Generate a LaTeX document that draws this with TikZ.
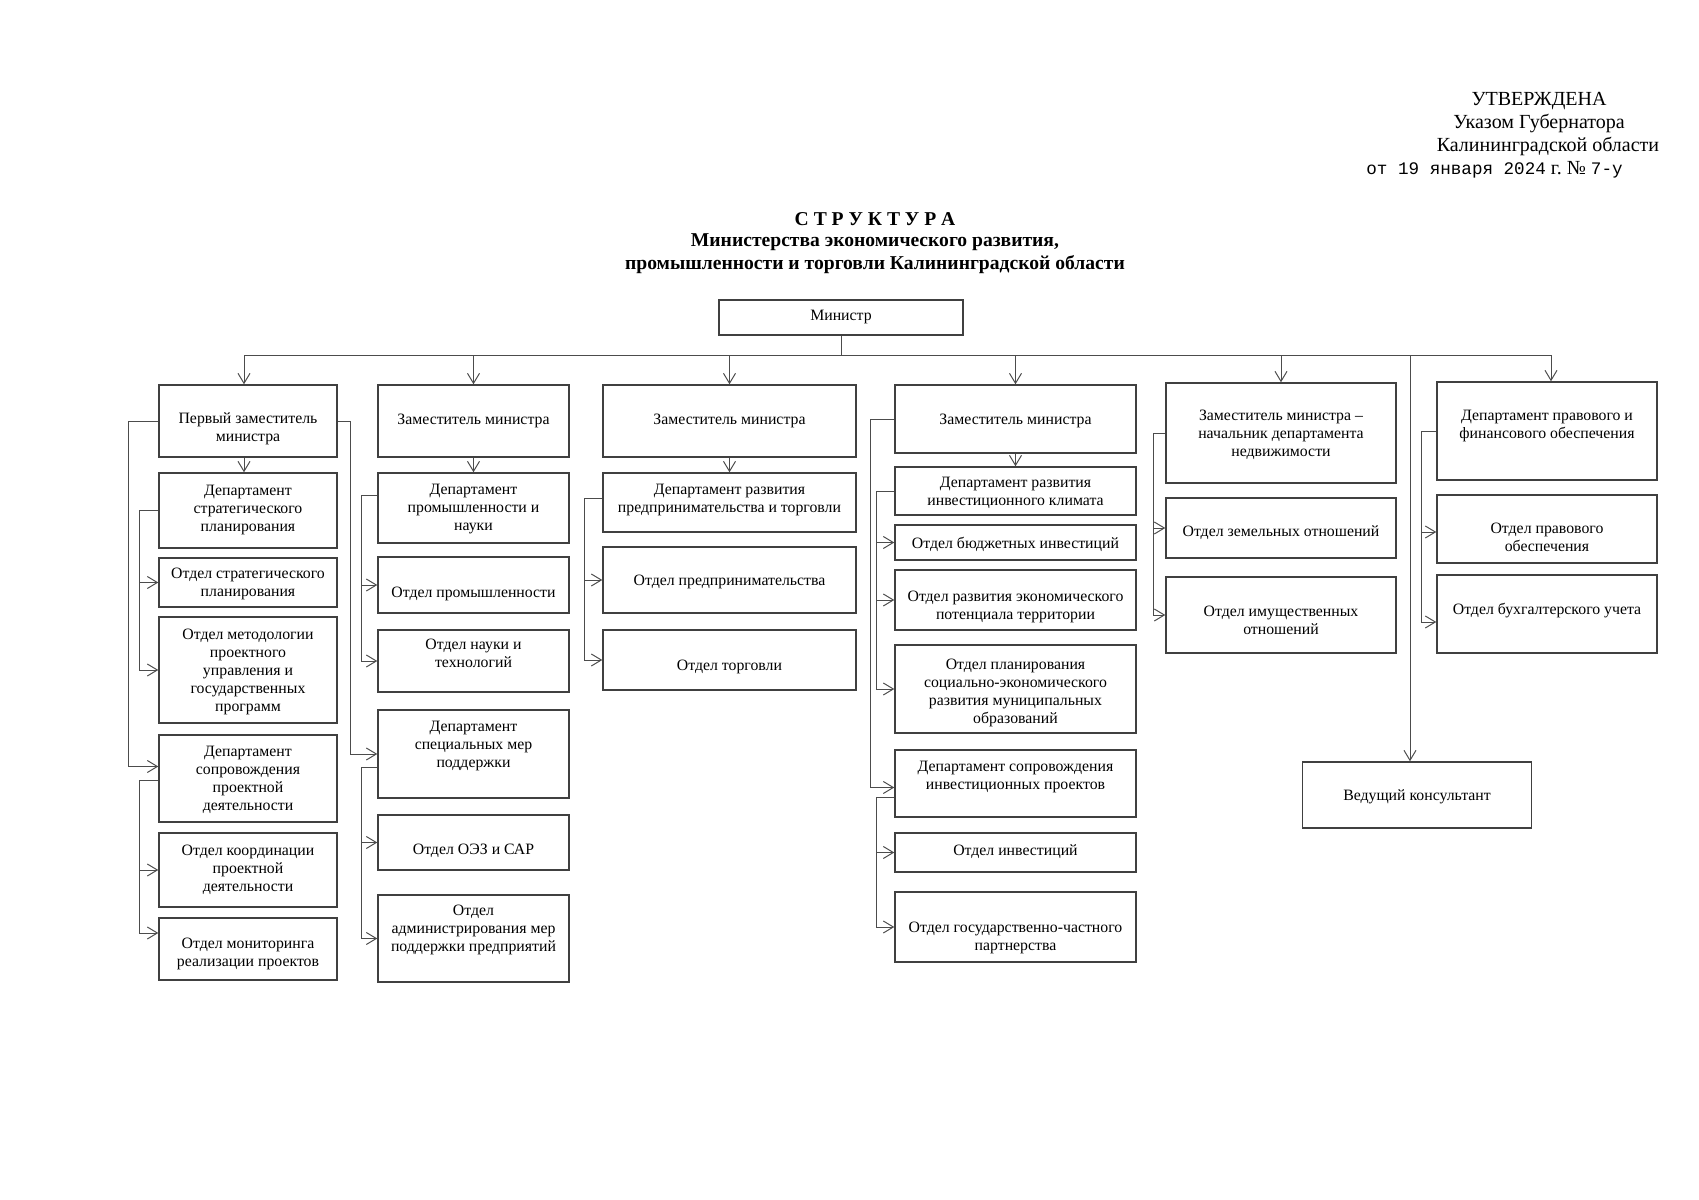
\documentclass[tikz,border=0pt]{standalone}
\usepackage{fontspec}
\setmainfont{Liberation Serif}
\newfontfamily\monofnt{Liberation Mono}
\usetikzlibrary{arrows.meta}

\begin{document}
\begin{tikzpicture}[x=0.5pt, y=-0.5pt]
\tikzstyle{box} = [draw=black!75, line width=0.7pt, inner sep=1pt, align=center, text depth=2pt, font=\fontsize{7.9}{9}\selectfont];
\tikzstyle{c1} = [box, minimum width=89pt];
\tikzstyle{c2} = [box, minimum width=95.5pt];
\tikzstyle{c3} = [box, minimum width=126.5pt];
\tikzstyle{c4} = [box, minimum width=120.5pt];
\tikzstyle{c5} = [box, minimum width=115pt];
\tikzstyle{c6} = [box, minimum width=110pt];
\tikzstyle{hdr} = [font=\fontsize{10}{11}\selectfont, inner sep=0pt];
\tikzstyle{ttl} = [font=\fontsize{9.8}{11}\selectfont\bfseries, inner sep=0pt];
\tikzstyle{link} = [draw=black!70, line width=0.5pt];
\tikzstyle{arr} = [link, -{Straight Barb[length=5pt,width=6pt]}];

\useasboundingbox (0,0) rectangle (1699,1200);

\node[hdr] (utv) at (1539,101) {УТВЕРЖДЕНА};
\node[hdr] (ukaz) at (1539,123) {Указом Губернатора};
\node[hdr] (kal) at (1548,146) {Калининградской области};
\node[hdr, anchor=west] (dat) at (1366,170) {{\monofnt\fontsize{8.8}{11}\selectfont от 19 января 2024} г.~№ {\monofnt\fontsize{8.8}{11}\selectfont 7-у}};

\node[ttl] (str) at (875,219) {С Т Р У К Т У Р А};
\node[ttl] (ttlA) at (875,242) {Министерства экономического развития,};
\node[ttl] (ttlB) at (875,265) {промышленности и торговли Калининградской области};

\node[box, minimum width=122pt, minimum height=17.5pt] (min) at (841,317.5) {Министр};

% column 1
\node[c1, minimum height=36pt, text depth=0pt, text height=20pt] (fd) at (248,421) {Первый заместитель\\министра};
\node[c1, minimum height=37.5pt] (dsp) at (248,510.5) {Департамент\\стратегического\\планирования};
\node[c1, minimum height=24.5pt, text depth=0pt] (osp) at (248,582.5) {Отдел стратегического\\планирования};
\node[c1, minimum height=53pt, text depth=0pt] (omp) at (248,670) {Отдел методологии\\проектного\\управления и\\государственных\\программ};
\node[c1, minimum height=43.5pt, text depth=0pt] (dsd) at (248,778.5) {Департамент\\сопровождения\\проектной\\деятельности};
\node[c1, minimum height=37pt] (okp) at (248,870) {Отдел координации\\проектной\\деятельности};
\node[c1, minimum height=31pt, text depth=0pt, text height=17.2pt] (omr) at (248,949) {Отдел мониторинга\\реализации проектов};

% column 2
\node[c2, minimum height=36pt] (d2) at (473.5,421) {Заместитель министра};
\node[c2, minimum height=35pt, text depth=1pt] (dpn) at (473.5,508) {Департамент\\промышленности и\\науки};
\node[c2, minimum height=28pt, text depth=0pt, text height=12pt] (oprom) at (473.5,585) {Отдел промышленности};
\node[c2, minimum height=31pt, text depth=7.4pt] (onauk) at (473.5,661) {Отдел науки и\\технологий};
\node[c2, minimum height=44pt, text depth=9.6pt] (dsm) at (473.5,754) {Департамент\\специальных мер\\поддержки};
\node[c2, minimum height=27.5pt, text depth=0pt, text height=12pt] (oez) at (473.5,842.5) {Отдел ОЭЗ и САР};
\node[c2, minimum height=43.5pt, text depth=10.6pt] (oadm) at (473.5,938.5) {Отдел\\администрирования мер\\поддержки предприятий};

% column 3
\node[c3, minimum height=36pt] (d3) at (729.5,421) {Заместитель министра};
\node[c3, minimum height=29.5pt, text depth=4pt] (dpt) at (729.5,502.5) {Департамент развития\\предпринимательства и торговли};
\node[c3, minimum height=33pt, text depth=0pt] (opr) at (729.5,580) {Отдел предпринимательства};
\node[c3, minimum height=30pt, text depth=0pt, text height=10pt] (otrg) at (729.5,660) {Отдел торговли};

% column 4
\node[c4, minimum height=34pt, text depth=0pt] (d4) at (1015.5,419) {Заместитель министра};
\node[c4, minimum height=24pt, text depth=0pt] (dik) at (1015.5,491) {Департамент развития\\инвестиционного климата};
\node[c4, minimum height=17.5pt, text depth=0pt] (obi) at (1015.5,542.5) {Отдел бюджетных инвестиций};
\node[c4, minimum height=30pt, text depth=0pt, text height=19.4pt] (oept) at (1015.5,600) {Отдел развития экономического\\потенциала территории};
\node[c4, minimum height=44pt, text depth=0pt, text height=34.8pt] (opsr) at (1015.5,689) {Отдел планирования\\социально-экономического\\развития муниципальных\\образований};
\node[c4, minimum height=33.5pt, text depth=8.4pt] (dsip) at (1015.5,783.5) {Департамент сопровождения\\инвестиционных проектов};
\node[c4, minimum height=19.5pt] (oinv) at (1015.5,852.5) {Отдел инвестиций};
\node[c4, minimum height=35pt, text depth=0pt, text height=23.2pt] (ogcp) at (1015.5,927) {Отдел государственно-частного\\партнерства};

% column 5
\node[c5, minimum height=50pt, text depth=0pt] (d5) at (1281,433) {Заместитель министра –\\начальник департамента\\недвижимости};
\node[c5, minimum height=30pt, text depth=0pt, text height=8.8pt] (ozem) at (1281,528) {Отдел земельных отношений};
\node[c5, minimum height=38pt, text depth=0pt, text height=19.4pt] (oim) at (1281,615) {Отдел имущественных\\отношений};

% column 6
\node[c6, minimum height=49pt, text depth=6.4pt] (dpf) at (1547,431) {Департамент правового и\\финансового обеспечения};
\node[c6, minimum height=34pt, text depth=0pt, text height=22.6pt] (opo) at (1547,529) {Отдел правового\\обеспечения};
\node[c6, minimum height=39pt, text depth=5.2pt] (obu) at (1547,614) {Отдел бухгалтерского учета};
\node[box, minimum width=114.5pt, minimum height=33pt, text depth=0pt] (kons) at (1417,795) {Ведущий консультант};

\coordinate (bus) at (841,355);
\coordinate (t1o) at (128,0);
\coordinate (t1i) at (139,0);
\coordinate (t2o) at (350,0);
\coordinate (t2i) at (361,0);
\coordinate (t3) at (584,0);
\coordinate (t4o) at (870,0);
\coordinate (t4i) at (876,0);
\coordinate (t5) at (1153,0);
\coordinate (t6) at (1421,0);

\draw[link] (min.south) -- (bus);
\draw[link] ([xshift=-2pt]bus -| fd.north) -- ([xshift=2pt]bus -| dpf.north);
\foreach \n/\s in {fd/-2pt,d2/0pt,d3/0pt,d4/0pt,d5/0pt,dpf/2pt,kons/-3.5pt}
    \draw[arr] ([xshift=\s]bus -| \n.north) -- ([xshift=\s]\n.north);
\foreach \a/\b/\s in {fd/dsp/-2pt,d2/dpn/0pt,d3/dpt/0pt,d4/dik/0pt}
    \draw[arr] ([xshift=\s]\a.south) -- ([xshift=\s]\b.north);

% column 1
\draw[arr] (fd.west) -- (fd.west -| t1o) |- ([yshift=6pt]dsd.west);
\draw[arr] (fd.east) -- (fd.east -| t2o) |- (dsm.west);
\foreach \n in {osp,omp}
    \draw[arr] (dsp.west) -- (dsp.west -| t1i) |- (\n.west);
\coordinate (dsdo) at ([yshift=-1pt]dsd.west);
\foreach \n/\s in {okp/0pt,omr/8pt}
    \draw[arr] (dsdo) -- (dsdo -| t1i) |- ([yshift=\s]\n.west);

% column 2
\coordinate (dpno) at ([yshift=6.5pt]dpn.west);
\foreach \n in {oprom,onauk}
    \draw[arr] (dpno) -- (dpno -| t2i) |- (\n.west);
\coordinate (dsmo) at ([yshift=-6.5pt]dsm.west);
\foreach \n in {oez,oadm}
    \draw[arr] (dsmo) -- (dsmo -| t2i) |- (\n.west);

% column 3
\coordinate (dpto) at ([yshift=2pt]dpt.west);
\foreach \n in {opr,otrg}
    \draw[arr] (dpto) -- (dpto -| t3) |- (\n.west);

% column 4
\draw[arr] (d4.west) -- (d4.west -| t4o) |- ([yshift=-2pt]dsip.west);
\foreach \n in {obi,oept,opsr}
    \draw[arr] (dik.west) -- (dik.west -| t4i) |- (\n.west);
\coordinate (dsipo) at ([yshift=-7pt]dsip.west);
\foreach \n in {oinv,ogcp}
    \draw[arr] (dsipo) -- (dsipo -| t4i) |- (\n.west);

% columns 5 and 6
\foreach \n in {ozem,oim}
    \draw[arr] (d5.west) -- (d5.west -| t5) |- (\n.west);
\foreach \n/\s in {opo/-1.5pt,obu/-4pt}
    \draw[arr] (dpf.west) -- (dpf.west -| t6) |- ([yshift=\s]\n.west);
\end{tikzpicture}
\end{document}
